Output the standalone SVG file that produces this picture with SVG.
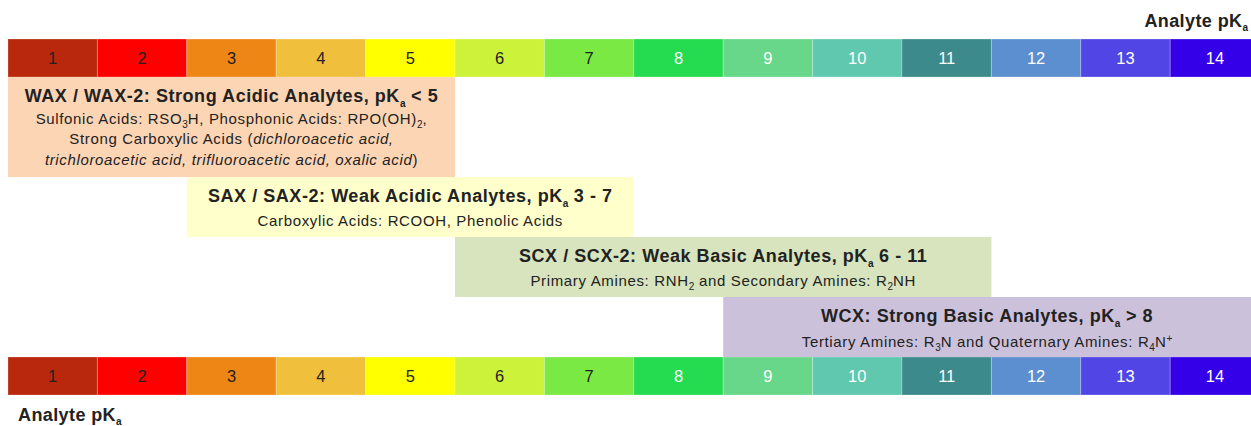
<svg xmlns="http://www.w3.org/2000/svg" width="1251" height="426" viewBox="0 0 1251 426">
<style>
text{font-family:"Liberation Sans",Arial,sans-serif;fill:#222}
.num{font-size:16.5px;text-anchor:middle}
.w{fill:#fff}
.cell{stroke:#fff;stroke-opacity:0.25;stroke-width:1}
.title{font-size:18px;font-weight:bold;text-anchor:middle;letter-spacing:0.55px}
.sub{font-size:15px;text-anchor:middle;letter-spacing:0.65px}
.ax{font-size:18px;font-weight:bold;letter-spacing:0.4px}
.s{font-size:10px;letter-spacing:0}
</style>
<g id="scale-top">
<rect class="cell" x="8" y="39" width="89.4" height="38" fill="#b9280c"/>
<rect class="cell" x="97.4" y="39" width="89.4" height="38" fill="#ff0000"/>
<rect class="cell" x="186.8" y="39" width="89.4" height="38" fill="#ee8615"/>
<rect class="cell" x="276.2" y="39" width="89.4" height="38" fill="#f0bf3b"/>
<rect class="cell" x="365.6" y="39" width="89.4" height="38" fill="#ffff00"/>
<rect class="cell" x="455" y="39" width="89.4" height="38" fill="#cdf23a"/>
<rect class="cell" x="544.4" y="39" width="89.4" height="38" fill="#7ae943"/>
<rect class="cell" x="633.8" y="39" width="89.4" height="38" fill="#25db50"/>
<rect class="cell" x="723.2" y="39" width="89.4" height="38" fill="#69d789"/>
<rect class="cell" x="812.6" y="39" width="89.4" height="38" fill="#60c8ae"/>
<rect class="cell" x="902" y="39" width="89.4" height="38" fill="#3c8a8b"/>
<rect class="cell" x="991.4" y="39" width="89.4" height="38" fill="#5c8fcf"/>
<rect class="cell" x="1080.8" y="39" width="89.4" height="38" fill="#5245e5"/>
<rect class="cell" x="1170.2" y="39" width="89.4" height="38" fill="#3300e8"/>
<text class="num" x="52.7" y="64">1</text>
<text class="num" x="142.1" y="64">2</text>
<text class="num" x="231.5" y="64">3</text>
<text class="num" x="320.9" y="64">4</text>
<text class="num" x="410.3" y="64">5</text>
<text class="num" x="499.7" y="64">6</text>
<text class="num" x="589.1" y="64">7</text>
<text class="num w" x="678.5" y="64">8</text>
<text class="num w" x="767.9" y="64">9</text>
<text class="num w" x="857.3" y="64">10</text>
<text class="num w" x="946.7" y="64">11</text>
<text class="num w" x="1036.1" y="64">12</text>
<text class="num w" x="1125.5" y="64">13</text>
<text class="num w" x="1214.9" y="64">14</text>
</g>
<g id="scale-bottom">
<rect class="cell" x="8" y="357" width="89.4" height="38" fill="#b9280c"/>
<rect class="cell" x="97.4" y="357" width="89.4" height="38" fill="#ff0000"/>
<rect class="cell" x="186.8" y="357" width="89.4" height="38" fill="#ee8615"/>
<rect class="cell" x="276.2" y="357" width="89.4" height="38" fill="#f0bf3b"/>
<rect class="cell" x="365.6" y="357" width="89.4" height="38" fill="#ffff00"/>
<rect class="cell" x="455" y="357" width="89.4" height="38" fill="#cdf23a"/>
<rect class="cell" x="544.4" y="357" width="89.4" height="38" fill="#7ae943"/>
<rect class="cell" x="633.8" y="357" width="89.4" height="38" fill="#25db50"/>
<rect class="cell" x="723.2" y="357" width="89.4" height="38" fill="#69d789"/>
<rect class="cell" x="812.6" y="357" width="89.4" height="38" fill="#60c8ae"/>
<rect class="cell" x="902" y="357" width="89.4" height="38" fill="#3c8a8b"/>
<rect class="cell" x="991.4" y="357" width="89.4" height="38" fill="#5c8fcf"/>
<rect class="cell" x="1080.8" y="357" width="89.4" height="38" fill="#5245e5"/>
<rect class="cell" x="1170.2" y="357" width="89.4" height="38" fill="#3300e8"/>
<text class="num" x="52.7" y="382">1</text>
<text class="num" x="142.1" y="382">2</text>
<text class="num" x="231.5" y="382">3</text>
<text class="num" x="320.9" y="382">4</text>
<text class="num" x="410.3" y="382">5</text>
<text class="num" x="499.7" y="382">6</text>
<text class="num" x="589.1" y="382">7</text>
<text class="num w" x="678.5" y="382">8</text>
<text class="num w" x="767.9" y="382">9</text>
<text class="num w" x="857.3" y="382">10</text>
<text class="num w" x="946.7" y="382">11</text>
<text class="num w" x="1036.1" y="382">12</text>
<text class="num w" x="1125.5" y="382">13</text>
<text class="num w" x="1214.9" y="382">14</text>
</g>
<g id="label-top">
<text class="ax" x="1248" y="27" text-anchor="end">Analyte pK<tspan class="s" dy="4">a</tspan></text>
</g>
<g id="label-bottom">
<text class="ax" x="18" y="421">Analyte pK<tspan class="s" dy="4">a</tspan></text>
</g>
<g id="wax">
<rect x="8" y="77" width="447" height="100" fill="#fcd5b5"/>
<text class="title" x="231.5" y="102">WAX / WAX-2: Strong Acidic Analytes, pK<tspan class="s" dy="5">a</tspan><tspan dy="-5"> &lt; 5</tspan></text>
<text class="sub" x="231.5" y="123.5">Sulfonic Acids: RSO<tspan class="s" dy="4">3</tspan><tspan dy="-4">H, Phosphonic Acids: RPO(OH)</tspan><tspan class="s" dy="4">2</tspan><tspan dy="-4">,</tspan></text>
<text class="sub" x="231.5" y="144">Strong Carboxylic Acids (<tspan font-style="italic">dichloroacetic acid,</tspan></text>
<text class="sub" x="231.5" y="164.5"><tspan font-style="italic">trichloroacetic acid, trifluoroacetic acid, oxalic acid</tspan>)</text>
</g>
<g id="sax">
<rect x="186.8" y="177" width="447" height="60" fill="#ffffcc"/>
<text class="title" x="410.3" y="201.5">SAX / SAX-2: Weak Acidic Analytes, pK<tspan class="s" dy="5">a</tspan><tspan dy="-5"> 3 - 7</tspan></text>
<text class="sub" x="410.3" y="225.5">Carboxylic Acids: RCOOH, Phenolic Acids</text>
</g>
<g id="scx">
<rect x="455" y="237" width="536.4" height="60" fill="#d7e4bd"/>
<text class="title" x="723.2" y="261.5">SCX / SCX-2: Weak Basic Analytes, pK<tspan class="s" dy="5">a</tspan><tspan dy="-5"> 6 - 11</tspan></text>
<text class="sub" x="723.2" y="285.5">Primary Amines: RNH<tspan class="s" dy="4">2</tspan><tspan dy="-4"> and Secondary Amines: R</tspan><tspan class="s" dy="4">2</tspan><tspan dy="-4">NH</tspan></text>
</g>
<g id="wcx">
<rect x="723.2" y="297" width="527.8" height="60" fill="#ccc1da"/>
<text class="title" x="987" y="321.5">WCX: Strong Basic Analytes, pK<tspan class="s" dy="5">a</tspan><tspan dy="-5"> &gt; 8</tspan></text>
<text class="sub" x="987" y="346.5">Tertiary Amines: R<tspan class="s" dy="4">3</tspan><tspan dy="-4">N and Quaternary Amines: R</tspan><tspan class="s" dy="4">4</tspan><tspan dy="-4">N</tspan><tspan class="s" dy="-5">+</tspan></text>
</g>
<g id="connectors"></g>
</svg>
